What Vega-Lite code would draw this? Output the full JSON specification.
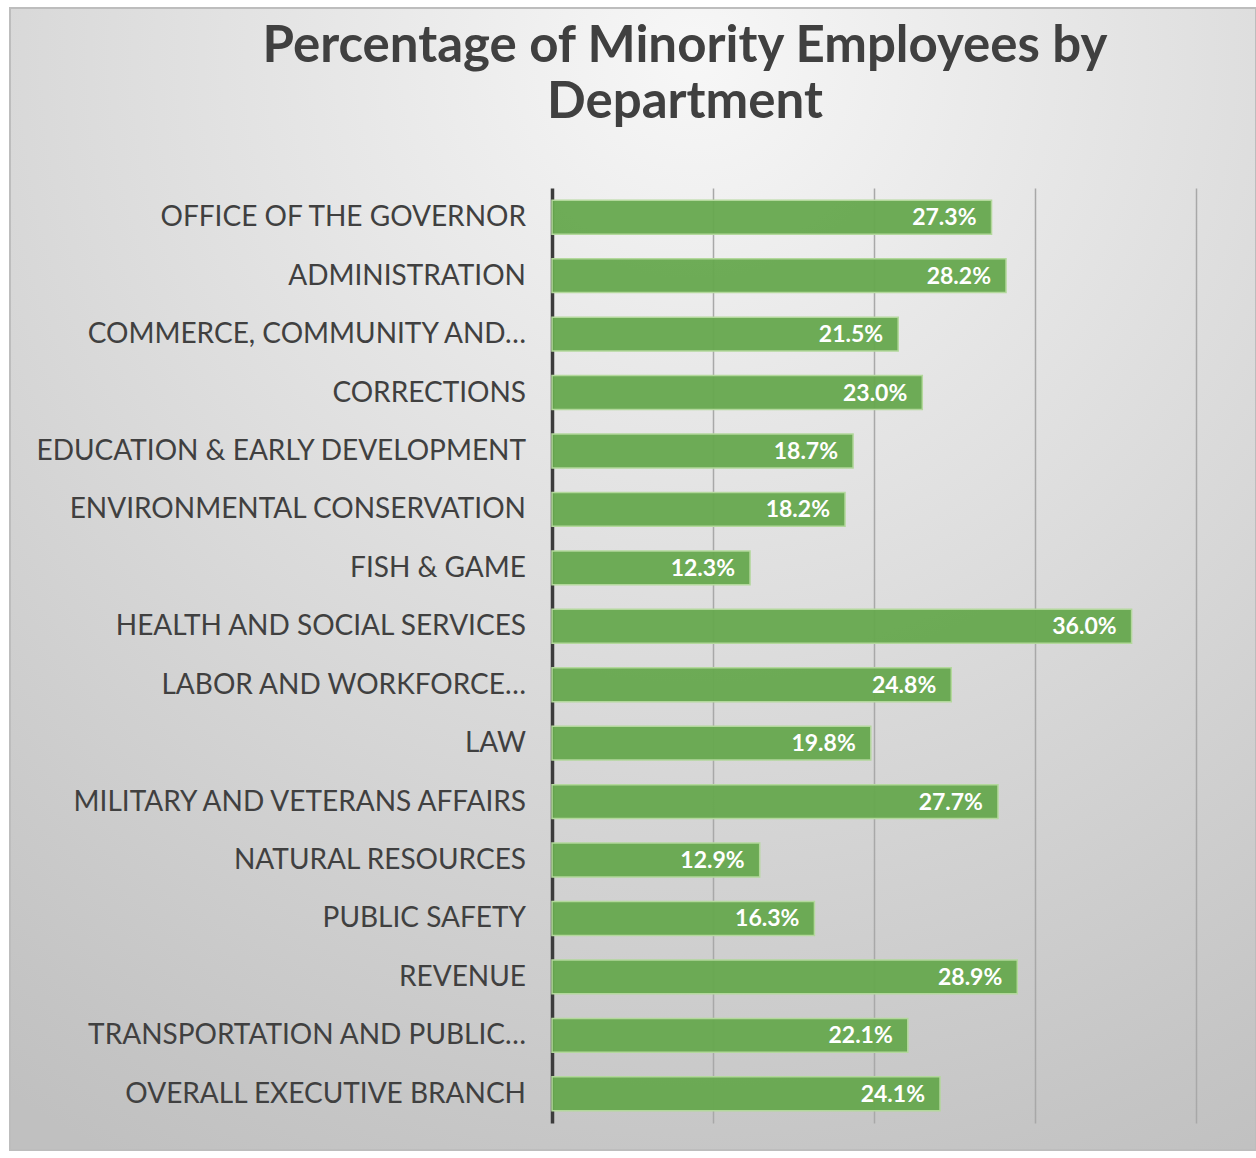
{
  "$schema": "https://vega.github.io/schema/vega-lite/v6.json",
  "width": 1246,
  "height": 1142,
  "autosize": {"type": "none"},
  "padding": {"left": 10, "top": 8, "right": 0, "bottom": 8},
  "background": "#ffffff",
  "title": {
    "text": ["Percentage of Minority Employees by", "Department"],
    "frame": "group",
    "anchor": "middle",
    "orient": "top",
    "offset": -121,
    "baseline": "top",
    "dx": 52,
    "font": "Lato",
    "fontSize": 51,
    "fontWeight": "bold",
    "color": "#404040",
    "lineHeight": 56
  },
  "config": {
    "view": {
      "fill": {
        "gradient": "radial",
        "x1": 0.55, "y1": 0.08, "r1": 0,
        "x2": 0.55, "y2": 0.08, "r2": 1,
        "stops": [
          {"offset": 0, "color": "#f7f7f7"},
          {"offset": 0.9, "color": "#c5c5c5"},
          {"offset": 1, "color": "#c0c0c0"}
        ]
      },
      "stroke": "#bdbdbd",
      "strokeWidth": 2
    }
  },
  "data": {
    "values": [
      {"dept": "OFFICE OF THE GOVERNOR", "pct": 0.273},
      {"dept": "ADMINISTRATION", "pct": 0.282},
      {"dept": "COMMERCE, COMMUNITY AND…", "pct": 0.215},
      {"dept": "CORRECTIONS", "pct": 0.230},
      {"dept": "EDUCATION & EARLY DEVELOPMENT", "pct": 0.187},
      {"dept": "ENVIRONMENTAL CONSERVATION", "pct": 0.182},
      {"dept": "FISH & GAME", "pct": 0.123},
      {"dept": "HEALTH AND SOCIAL SERVICES", "pct": 0.360},
      {"dept": "LABOR AND WORKFORCE…", "pct": 0.248},
      {"dept": "LAW", "pct": 0.198},
      {"dept": "MILITARY AND VETERANS AFFAIRS", "pct": 0.277},
      {"dept": "NATURAL RESOURCES", "pct": 0.129},
      {"dept": "PUBLIC SAFETY", "pct": 0.163},
      {"dept": "REVENUE", "pct": 0.289},
      {"dept": "TRANSPORTATION AND PUBLIC…", "pct": 0.221},
      {"dept": "OVERALL EXECUTIVE BRANCH", "pct": 0.241}
    ]
  },
  "encoding": {
    "y": {
      "field": "dept",
      "type": "nominal",
      "sort": null,
      "scale": {"range": [180, 1115], "paddingInner": 0.42, "paddingOuter": 0.21},
      "axis": null
    }
  },
  "layer": [
    {
      "mark": {"type": "bar", "fill": "#66a84e", "fillOpacity": 0.95, "stroke": "#b3d89c", "strokeWidth": 1.5},
      "encoding": {
        "x": {
          "field": "pct",
          "type": "quantitative",
          "scale": {"domain": [0, 0.4], "range": [542, 1186], "nice": false},
          "axis": {
            "orient": "top",
            "values": [0, 0.1, 0.2, 0.3, 0.4],
            "labels": false,
            "ticks": false,
            "domain": false,
            "title": null,
            "grid": true,
            "gridColor": {"condition": {"test": "datum.value === 0", "value": "#3c3c3c"}, "value": "#a8a8a8"},
            "gridWidth": {"condition": {"test": "datum.value === 0", "value": 3.5}, "value": 1.5},
            "gridOpacity": 1
          }
        }
      }
    },
    {
      "mark": {"type": "text", "align": "right", "baseline": "middle", "dx": -15, "dy": 1, "font": "Lato", "fontSize": 23, "fontWeight": "bold", "fill": "#ffffff"},
      "encoding": {
        "x": {"field": "pct", "type": "quantitative"},
        "text": {"field": "pct", "type": "quantitative", "format": ".1%"}
      }
    },
    {
      "mark": {"type": "text", "align": "right", "baseline": "middle", "dx": -26, "dy": 1, "font": "Lato", "fontSize": 28, "fill": "#404040"},
      "encoding": {
        "x": {"datum": 0, "type": "quantitative"},
        "text": {"field": "dept", "type": "nominal"}
      }
    }
  ]
}
